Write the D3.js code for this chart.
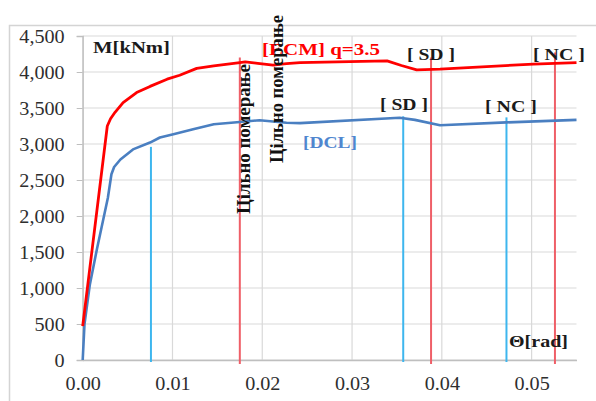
<!DOCTYPE html>
<html>
<head>
<meta charset="utf-8">
<script src="https://cdn.jsdelivr.net/npm/d3@7"></script>
<style>
  body { margin: 0; background: #fff; }
  svg { display: block; }
</style>
</head>
<body>
<svg class="chart" width="596" height="401"></svg>
<script>
// ECM (q=3.5) curve
var thetaECM = [0, 0.00274, 0.0031, 0.0036, 0.0045, 0.006, 0.0075, 0.0094, 0.0108, 0.0127, 0.0146, 0.0175, 0.0181, 0.0195, 0.0212, 0.0227, 0.0242, 0.0339, 0.0355, 0.0372, 0.0398, 0.0502, 0.055];
var momentECM = [470, 3250, 3350, 3440, 3575, 3715, 3800, 3900, 3955, 4050, 4085, 4130, 4140, 4120, 4095, 4115, 4130, 4155, 4090, 4030, 4040, 4110, 4130];
// DCL curve
var thetaDCL = [0, 0.0002, 0.0008, 0.0016, 0.0028, 0.0032, 0.0035, 0.0042, 0.0056, 0.0075, 0.0086, 0.0101, 0.0123, 0.0146, 0.0175, 0.0197, 0.0227, 0.0242, 0.0353, 0.037, 0.0398, 0.0472, 0.055];
var momentDCL = [0, 500, 1050, 1550, 2250, 2580, 2680, 2785, 2925, 3020, 3090, 3135, 3205, 3275, 3305, 3330, 3295, 3290, 3365, 3335, 3260, 3300, 3335];

// limit-state markers
var markerTheta = [0.0076, 0.0357, 0.0472, 0.0175, 0.0388, 0.0526];
var markerTop = [2960, 3385, 3370, 4200, 4200, 4270];
var markerSet = ["DCL", "DCL", "DCL", "ECM", "ECM", "ECM"];

var yTicks = [0, 500, 1000, 1500, 2000, 2500, 3000, 3500, 4000, 4500];
var xTicks = [0, 0.01, 0.02, 0.03, 0.04, 0.05];

var svg = d3.select(".chart"),
    margin = {top: 36, right: 20, bottom: 41, left: 82.7},
    width = 576.5 - margin.left,
    height = 360 - margin.top,
    g = svg.append("g").attr("transform", "translate(" + margin.left + "," + margin.top + ")");

var serif = "'Liberation Serif', 'Times New Roman', serif";

// stretch texts a bit wider, like the picture
function stretch(sel, k) {
  sel.each(function() {
    var w = this.getComputedTextLength();
    d3.select(this).attr("textLength", w * k).attr("lengthAdjust", "spacingAndGlyphs");
  });
}

// outer frame
svg.append("rect")
    .attr("x", 9.5).attr("y", 25.5)
    .attr("width", 620).attr("height", 420)
    .attr("fill", "none")
    .attr("stroke", "#d4d4d4")
    .attr("stroke-width", 1.5);

var x = d3.scaleLinear().domain([0, 0.055]).range([0, width]);
var y = d3.scaleLinear().domain([0, 4500]).range([height, 0]);

// grid
g.append("g").selectAll("line").data(yTicks).enter().append("line")
    .attr("x1", 0).attr("x2", width)
    .attr("y1", function(d) { return y(d); }).attr("y2", function(d) { return y(d); })
    .attr("stroke", "#d9d9d9").attr("stroke-width", 1.2);
g.append("g").selectAll("line").data(xTicks).enter().append("line")
    .attr("x1", function(d) { return x(d); }).attr("x2", function(d) { return x(d); })
    .attr("y1", 0).attr("y2", height)
    .attr("stroke", "#d9d9d9").attr("stroke-width", 1.2);

// axes
var yAxis = g.append("g")
    .call(d3.axisLeft(y).tickValues(yTicks).tickFormat(d3.format(",")).tickSize(6).tickPadding(12));
var xAxis = g.append("g")
    .attr("transform", "translate(0," + height + ")")
    .call(d3.axisBottom(x).tickValues(xTicks).tickFormat(d3.format(".2f")).tickSize(0).tickPadding(17));

[yAxis, xAxis].forEach(function(a) {
  a.select(".domain").attr("stroke", "#bfbfbf").attr("stroke-width", 1.3);
  a.selectAll(".tick line").attr("stroke", "#bfbfbf");
  a.selectAll(".tick text")
      .attr("fill", "#2e2e2e")
      .style("font-family", serif)
      .style("font-size", "18px");
  stretch(a.selectAll(".tick text"), 1.12);
});
yAxis.selectAll(".tick text").attr("dy", "0.36em");

// marker lines
g.append("g").selectAll("line").data(markerTheta).enter().append("line")
    .attr("x1", function(d) { return x(d); }).attr("x2", function(d) { return x(d); })
    .attr("y1", function(d, i) { return y(markerTop[i]); })
    .attr("y2", function(d, i) { return markerSet[i] == "ECM" ? height + 4 : height + 2; })
    .attr("stroke", function(d, i) { return markerSet[i] == "ECM" ? "#ef5f68" : "#3db6ee"; })
    .attr("stroke-width", 2);

// curves
var lineECM = d3.line()
    .x(function(d, i) { return x(thetaECM[i]); })
    .y(function(d) { return y(d); });
var lineDCL = d3.line()
    .x(function(d, i) { return x(thetaDCL[i]); })
    .y(function(d) { return y(d); });

g.append("path")
    .datum(momentDCL)
    .attr("fill", "none")
    .attr("stroke", "#4a7fc1")
    .attr("stroke-linejoin", "round")
    .attr("stroke-width", 2.6)
    .attr("d", lineDCL);

g.append("path")
    .datum(momentECM)
    .attr("fill", "none")
    .attr("stroke", "#ff0000")
    .attr("stroke-linejoin", "round")
    .attr("stroke-width", 2.8)
    .attr("d", lineECM);

// labels
var labels = [
  {t: "M[kNm]", x: 93, y: 53, c: "#1a1a1a", w: 77},
  {t: "[ECM] q=3.5", x: 262, y: 55, c: "#ff0000", w: 118},
  {t: "[ SD ]", x: 407, y: 60, c: "#1a1a1a", w: 48},
  {t: "[ NC ]", x: 533, y: 60, c: "#1a1a1a", w: 52},
  {t: "[ SD ]", x: 380, y: 110, c: "#1a1a1a", w: 48},
  {t: "[ NC ]", x: 485, y: 112, c: "#1a1a1a", w: 52},
  {t: "[DCL]", x: 303, y: 148, c: "#4f86cf", w: 54},
  {t: "\u0398[rad]", x: 509, y: 347, c: "#1a1a1a", w: 59}
];
svg.append("g").selectAll("text").data(labels).enter().append("text")
    .attr("x", function(d) { return d.x; })
    .attr("y", function(d) { return d.y; })
    .attr("fill", function(d) { return d.c; })
    .attr("textLength", function(d) { return d.w; })
    .attr("lengthAdjust", "spacingAndGlyphs")
    .style("font-family", serif)
    .style("font-weight", "bold")
    .style("font-size", "17.5px")
    .text(function(d) { return d.t; });

// vertical notes
var notes = [
  {t: "Цільно померање", x: 250, y: 214, w: 150},
  {t: "Цільно померање", x: 283, y: 163, w: 148}
];
svg.append("g").selectAll("text").data(notes).enter().append("text")
    .attr("transform", function(d) { return "translate(" + d.x + "," + d.y + ") rotate(-90)"; })
    .attr("fill", "#111")
    .attr("textLength", function(d) { return d.w; })
    .attr("lengthAdjust", "spacingAndGlyphs")
    .style("font-family", serif)
    .style("font-weight", "bold")
    .style("font-size", "18px")
    .text(function(d) { return d.t; });
</script>
</body>
</html>
